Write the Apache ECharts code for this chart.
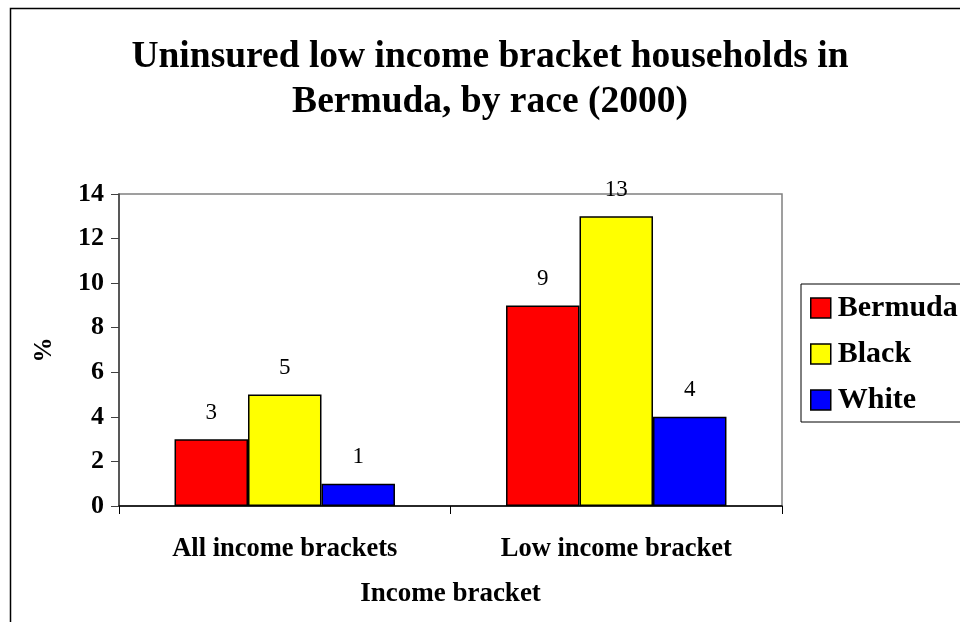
<!DOCTYPE html>
<html>
<head>
<meta charset="utf-8">
<script src="https://cdn.jsdelivr.net/npm/echarts@6/dist/echarts.min.js"></script>
<style>
  html, body { margin: 0; padding: 0; background: #fff; }
  #chart { width: 960px; height: 622px; }
</style>
</head>
<body>
<div id="chart"></div>
<script>
// Income bracket categories and percentage of uninsured households per group
const categories = ['All income brackets', 'Low income bracket'];
const bermuda = [3, 9];
const black = [5, 13];
const white = [1, 4];
const yTicks = [0, 2, 4, 6, 8, 10, 12, 14];

const serif = '"Liberation Serif", "Times New Roman", serif';

const chart = echarts.init(document.getElementById('chart'), null, { renderer: 'canvas' });

function barSeries(name, data, color) {
  return {
    name: name,
    type: 'bar',
    data: data,
    barGap: '0%',
    barCategoryGap: '33.5%',
    itemStyle: { color: color, borderColor: '#000', borderWidth: 1.5 },
    label: {
      show: true,
      position: 'top',
      distance: 15,
      fontFamily: serif,
      fontSize: 23,
      color: '#000'
    }
  };
}

chart.setOption({
  backgroundColor: '#fff',
  animation: false,
  title: {
    text: 'Uninsured low income bracket households in\nBermuda, by race (2000)',
    left: 485,
    top: 30,
    padding: 5,
    textAlign: 'center',
    textStyle: {
      fontFamily: serif,
      fontWeight: 'bold',
      fontSize: 37.5,
      lineHeight: 45,
      color: '#000'
    }
  },
  graphic: [{
    type: 'rect',
    shape: { x: 10.5, y: 8.5, width: 1000, height: 700 },
    style: { fill: 'none', stroke: '#000', lineWidth: 1.5 },
    silent: true
  }],
  legend: {
    orient: 'vertical',
    left: 801,
    top: 284,
    padding: [9, 60, 7, 9],
    itemGap: 16,
    itemWidth: 20,
    itemHeight: 20,
    icon: 'rect',
    borderColor: '#000',
    borderWidth: 1,
    textStyle: {
      fontFamily: serif,
      fontWeight: 'bold',
      fontSize: 30,
      color: '#000',
      padding: [0, 0, 0, 2]
    },
    itemStyle: { borderColor: '#000', borderWidth: 1.5 },
    data: ['Bermuda', 'Black', 'White']
  },
  grid: {
    left: 119,
    top: 194,
    width: 663,
    height: 312,
    show: true,
    borderColor: '#808080',
    borderWidth: 1.5,
    containLabel: false
  },
  xAxis: {
    type: 'category',
    data: categories,
    name: 'Income bracket',
    nameLocation: 'middle',
    nameGap: 75,
    nameTextStyle: {
      fontFamily: serif,
      fontWeight: 'bold',
      fontSize: 27,
      color: '#000'
    },
    axisLine: { lineStyle: { color: '#000', width: 1.5 } },
    axisTick: { show: true, length: 8, lineStyle: { color: '#000' } },
    axisLabel: {
      margin: 30,
      fontFamily: serif,
      fontWeight: 'bold',
      fontSize: 26.5,
      color: '#000'
    }
  },
  yAxis: {
    type: 'value',
    min: 0,
    max: 14,
    interval: 2,
    name: '%',
    nameLocation: 'middle',
    nameGap: 62,
    nameRotate: 90,
    nameTextStyle: {
      fontFamily: serif,
      fontWeight: 'bold',
      fontSize: 25,
      color: '#000'
    },
    axisLine: { show: true, lineStyle: { color: '#404040', width: 1.5 } },
    axisTick: { show: true, length: 8, inside: false, lineStyle: { color: '#404040' } },
    splitLine: { show: false },
    axisLabel: {
      margin: 15,
      fontFamily: serif,
      fontWeight: 'bold',
      fontSize: 26,
      color: '#000',
      formatter: function (v) { return yTicks.indexOf(v) >= 0 ? String(v) : ''; }
    }
  },
  series: [
    barSeries('Bermuda', bermuda, '#ff0000'),
    barSeries('Black', black, '#ffff00'),
    barSeries('White', white, '#0000ff')
  ]
});
</script>
</body>
</html>
